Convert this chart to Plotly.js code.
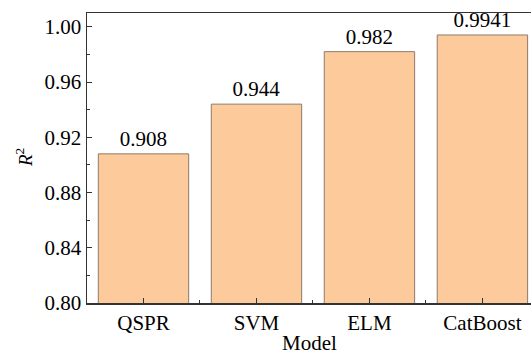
<!DOCTYPE html>
<html>
<head>
<meta charset="utf-8">
<script src="https://cdn.plot.ly/plotly-3.0.1.min.js"></script>
<style>
  html, body { margin: 0; padding: 0; background: #fff; overflow: hidden; }
  #chart { width: 531px; height: 355px; }
</style>
</head>
<body>
<div id="chart"></div>
<script>
// Model names and their R² scores
const models = ["QSPR", "SVM", "ELM", "CatBoost"];
const r2Values = [0.908, 0.944, 0.982, 0.9941];
const r2Labels = ["0.908", "0.944", "0.982", "0.9941"];

const positions = models.map((_, i) => i);
const serif = "Liberation Serif";
const fs = 21;

const trace = {
  type: "bar",
  x: positions,
  y: r2Values,
  width: 0.8,
  text: r2Labels,
  textposition: "outside",
  cliponaxis: false,
  textfont: { family: serif, size: fs, color: "#000" },
  marker: { color: "#FDCB9B", line: { color: "#8c7b6b", width: 1 } },
  hoverinfo: "skip"
};

const layout = {
  width: 531,
  height: 355,
  margin: { l: 87, r: 0, t: 13, b: 52 },
  paper_bgcolor: "#fff",
  plot_bgcolor: "#fff",
  showlegend: false,
  font: { family: serif, size: fs, color: "#000" },
  xaxis: {
    range: [-0.5, 3.43],
    tickvals: positions,
    ticktext: models,
    ticks: "inside",
    ticklen: 5,
    tickwidth: 1,
    tickcolor: "#333",
    showline: true,
    linecolor: "#333",
    linewidth: 1.5,
    mirror: true,
    showgrid: false,
    zeroline: false,
    tickfont: { family: serif, size: fs, color: "#000" },
    minor: { tickvals: [0.5, 1.5, 2.5], ticks: "inside", ticklen: 3, tickcolor: "#333" }
  },
  yaxis: {
    range: [0.80, 1.01],
    tickvals: [0.80, 0.84, 0.88, 0.92, 0.96, 1.00],
    tickformat: ".2f",
    ticks: "inside",
    ticklen: 5,
    tickwidth: 1,
    tickcolor: "#333",
    showline: true,
    linecolor: "#333",
    linewidth: 1.5,
    showgrid: false,
    zeroline: false,
    tickfont: { family: serif, size: fs, color: "#000" },
    minor: { tickvals: [0.82, 0.86, 0.90, 0.94, 0.98], ticks: "inside", ticklen: 3, tickcolor: "#333" }
  },
  // axis titles placed just outside the plot area
  annotations: [
    {
      text: "Model", xref: "paper", yref: "paper", x: 0.5, y: 0,
      xanchor: "center", yanchor: "top", yshift: -26, showarrow: false,
      font: { family: serif, size: fs, color: "#000" }
    },
    {
      text: "<i>R</i><sup>2</sup>", xref: "paper", yref: "paper", x: 0, y: 0.5,
      xanchor: "center", yanchor: "middle", xshift: -63, textangle: -90, showarrow: false,
      font: { family: serif, size: 19, color: "#000" }
    }
  ]
};

Plotly.newPlot("chart", [trace], layout, { displayModeBar: false, staticPlot: true });
</script>
</body>
</html>
